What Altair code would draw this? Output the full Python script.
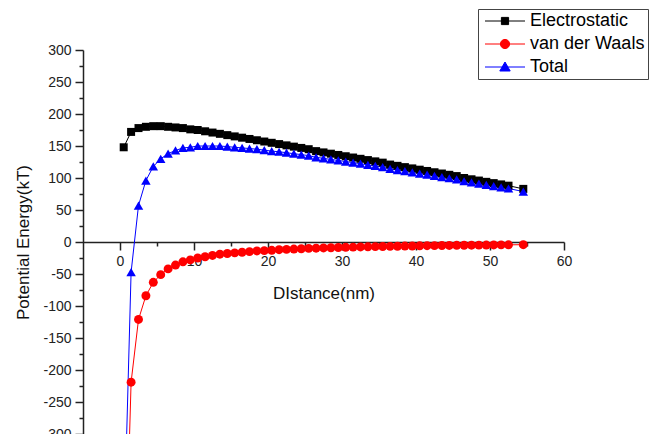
import altair as alt
import pandas as pd

distance = [0.5, 1.5, 2.5, 3.5, 4.5, 5.5, 6.5, 7.5, 8.5, 9.5,
            10.5, 11.5, 12.5, 13.5, 14.5, 15.5, 16.5, 17.5, 18.5, 19.5,
            20.5, 21.5, 22.5, 23.5, 24.5, 25.5, 26.5, 27.5, 28.5, 29.5,
            30.5, 31.5, 32.5, 33.5, 34.5, 35.5, 36.5, 37.5, 38.5, 39.5,
            40.5, 41.5, 42.5, 43.5, 44.5, 45.5, 46.5, 47.5, 48.5, 49.5,
            50.5, 51.5, 52.5, 54.5]

electrostatic = [148, 172, 178, 180, 181, 181, 180, 179, 178, 176,
                 175, 173, 171, 169, 167, 165, 163, 161, 159, 157,
                 155, 153, 151, 149, 147, 145, 142, 140, 138, 136,
                 134, 132, 130, 128, 126, 124, 121, 119, 117, 115,
                 113, 111, 109, 107, 105, 103, 100, 98, 96, 94,
                 92, 90, 88, 83]

van_der_waals = [-620, -219, -121, -84, -63, -51, -42, -36, -31, -28,
                 -25, -23, -21, -19, -18, -17, -16, -15, -14, -13.5,
                 -13, -12, -11.5, -11, -10.5, -10, -9.7, -9.3, -9, -8.6,
                 -8.3, -8, -7.7, -7.5, -7.2, -7, -6.8, -6.6, -6.4, -6.2,
                 -6, -5.8, -5.7, -5.5, -5.4, -5.2, -5.1, -5, -4.9, -4.8,
                 -4.6, -4.5, -4.4, -4.2]

total = [-472, -47, 57, 96, 118, 130, 138, 143, 147, 148,
         150, 150, 150, 150, 149, 148, 147, 146, 145, 143.5,
         142, 141, 139.5, 138, 136.5, 135, 132.3, 130.7, 129, 127.4,
         125.7, 124, 122.3, 120.5, 118.8, 117, 114.2, 112.4, 110.6, 108.8,
         107, 105.2, 103.3, 101.5, 99.6, 97.8, 94.9, 93, 91.1, 89.2,
         87.4, 85.5, 83.6, 78.8]

series_names = ["Electrostatic", "van der Waals", "Total"]
series_colors = ["#000000", "#ff0000", "#0000ff"]
plot_shapes = ["square", "circle", "triangle-up"]
plot_sizes = [64, 80, 90]
legend_shapes = [
    "M-5,0H5M-0.9,-0.9H0.9V0.9H-0.9Z",
    "M-5,0H5M-1.15,0A1.15,1.15,0,1,1,1.15,0A1.15,1.15,0,1,1,-1.15,0Z",
    "M-5,0H5M0,-1.25L1.3,1H-1.3Z",
]
x_ticks = [0, 5, 10, 15, 20, 25, 30, 35, 40, 45, 50, 55, 60]
y_ticks = [-300, -275, -250, -225, -200, -175, -150, -125, -100, -75, -50, -25,
           0, 25, 50, 75, 100, 125, 150, 175, 200, 225, 250, 275, 300]

rows = []
for name, vals in zip(series_names, [electrostatic, van_der_waals, total]):
    for d, v in zip(distance, vals):
        rows.append({"Distance": d, "Energy": v, "Series": name})
df = pd.DataFrame(rows)

W, H = 481, 384
FONT = "Liberation Sans"

x_scale = alt.Scale(domain=[-5, 60], nice=False, zero=False)
y_scale = alt.Scale(domain=[-300, 300], nice=False)

x_axis = alt.Axis(
    values=x_ticks,
    labelExpr="datum.value % 10 === 0 ? '' + datum.value : ''",
    tickSize={"condition": {"test": "datum.value % 10 === 0", "value": 8}, "value": 4},
    offset=-H / 2,
    grid=False,
    labelFlush=False,
    labelOverlap=False,
    title="DIstance(nm)",
    titleFontSize=17,
    titleFont=FONT,
    titleFontWeight="normal",
    titleColor="#111111",
    titlePadding=17,
    labelFont=FONT,
    labelFontSize=14,
    labelColor="#222222",
    labelPadding=4,
    domainColor="#222222",
    domainWidth=1.5,
    tickColor="#222222",
    tickWidth=1.5,
)

y_axis = alt.Axis(
    values=y_ticks,
    labelExpr="datum.value % 50 === 0 ? '' + datum.value : ''",
    tickSize={"condition": {"test": "datum.value % 50 === 0", "value": 8}, "value": 4},
    grid=False,
    labelFlush=False,
    labelOverlap=False,
    title="Potential Energy(kT)",
    titleFontSize=17,
    titleFont=FONT,
    titleFontWeight="normal",
    titleColor="#111111",
    titlePadding=10,
    labelFont=FONT,
    labelFontSize=14,
    labelColor="#222222",
    labelPadding=4,
    domainColor="#222222",
    domainWidth=1.5,
    tickColor="#222222",
    tickWidth=1.5,
)

X = alt.X("Distance:Q", scale=x_scale, axis=x_axis)
Y = alt.Y("Energy:Q", scale=y_scale, axis=y_axis)

color_scale = alt.Scale(domain=series_names, range=series_colors)

legend = alt.Legend(
    title=None, orient="none", legendX=395, legendY=-41,
    strokeColor="#444444", fillColor="#ffffff", padding=3,
    symbolSize=64, symbolOffset=15, labelOffset=16,
    labelFont=FONT, labelFontSize=18, labelColor="#000000",
    rowPadding=5, symbolStrokeWidth=1,
)

base = alt.Chart(df)

layers = [
    base.mark_line(strokeWidth=1, clip=True).encode(
        x=X, y=Y,
        color=alt.Color("Series:N", scale=color_scale, legend=legend),
        detail="Series:N",
    )
]

for name, col, shp, sz in zip(series_names, series_colors, plot_shapes, plot_sizes):
    layers.append(
        base.transform_filter(alt.datum.Series == name).mark_point(
            filled=True, opacity=1, clip=True, shape=shp, size=sz, color=col
        ).encode(x=X, y=Y)
    )

legend_layer = base.transform_filter("false").mark_point(
    filled=True, opacity=1, strokeWidth=1
).encode(
    x=X, y=Y,
    color=alt.Color("Series:N", scale=color_scale, legend=legend),
    stroke=alt.Stroke("Series:N", scale=color_scale, legend=legend),
    shape=alt.Shape("Series:N", scale=alt.Scale(domain=series_names, range=legend_shapes), legend=legend),
)
layers.append(legend_layer)

chart = alt.layer(*layers).properties(
    width=W,
    height=H,
    padding={"left": 75, "top": 42, "right": 91, "bottom": 0},
    autosize=alt.AutoSizeParams(type="none"),
).configure_view(
    stroke=None, fill=None
).configure_axis(
    grid=False
)

chart.save("out.html", embed_options={"renderer": "svg", "actions": False})
